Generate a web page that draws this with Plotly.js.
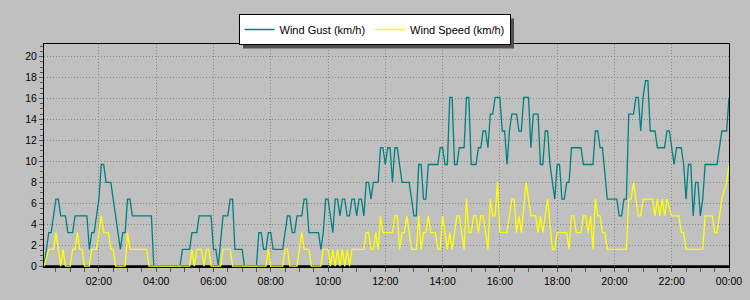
<!DOCTYPE html>
<html>
<head>
<meta charset="utf-8">
<script src="https://cdn.plot.ly/plotly-3.0.1.min.js"></script>
<style>
html,body{margin:0;padding:0;background:#c0c0c0;}
#chart{width:750px;height:300px;}
</style>
</head>
<body>
<div id="chart"></div>
<script>
// Wind gust (km/h) – vertices
const gustTimes = ["00:05","00:15","00:20","00:30","00:35","00:40","00:50","00:55","01:05","01:10","01:35","01:40","01:45","01:50","02:00","02:05","02:10","02:15","02:25","02:45","02:50","02:55","03:00","03:05","03:10","03:50","03:55","04:50","04:55","05:10","05:15","05:25","05:30","05:55","06:00","06:05","06:10","06:20","06:30","06:35","06:40","06:45","07:00","07:05","07:30","07:35","07:40","07:45","07:50","07:55","08:00","08:05","08:25","08:35","08:40","08:45","08:50","08:55","09:05","09:10","09:15","09:20","09:40","09:45","09:50","09:55","10:00","10:10","10:15","10:20","10:25","10:30","10:35","10:40","10:45","10:50","10:55","11:00","11:05","11:10","11:15","11:20","11:25","11:30","11:35","11:45","11:50","11:55","12:00","12:05","12:10","12:15","12:20","12:25","12:35","12:50","13:00","13:05","13:10","13:15","13:20","13:25","13:30","13:50","13:55","14:00","14:05","14:10","14:15","14:20","14:25","14:30","14:35","14:45","14:50","14:55","15:00","15:10","15:15","15:20","15:25","15:30","15:35","15:40","15:45","15:50","16:00","16:05","16:10","16:15","16:20","16:25","16:35","16:40","16:45","16:50","17:00","17:05","17:10","17:20","17:25","17:30","17:35","17:40","17:45","17:55","18:00","18:05","18:10","18:15","18:20","18:25","18:30","18:50","18:55","19:15","19:20","19:25","19:30","19:35","19:45","20:05","20:10","20:15","20:20","20:25","20:30","20:40","20:45","20:50","20:55","21:00","21:05","21:10","21:15","21:25","21:30","21:45","21:50","21:55","22:05","22:10","22:20","22:25","22:30","22:35","22:40","22:45","22:50","22:55","23:00","23:05","23:10","23:35","23:45","23:55","24:00"];
const gustValues = [0,3.2,3.2,6.4,6.4,4.8,4.8,3.2,3.2,4.8,4.8,1.6,3.2,3.2,6.4,9.7,9.7,8.0,8.0,1.6,3.2,3.2,6.4,6.4,4.8,4.8,0,0,1.6,1.6,3.2,3.2,4.8,4.8,1.6,1.6,0,4.8,4.8,6.4,6.4,1.6,1.6,0,0,3.2,3.2,1.6,1.6,3.2,3.2,1.6,1.6,4.8,4.8,3.2,3.2,4.8,4.8,6.4,6.4,3.2,3.2,1.6,3.2,6.4,6.4,3.2,6.4,6.4,4.8,6.4,6.4,4.8,4.8,6.4,6.4,4.8,6.4,6.4,4.8,8.0,8.0,6.4,8.0,8.0,11.3,11.3,9.7,11.3,11.3,8.0,11.3,11.3,8.0,8.0,4.8,4.8,9.7,9.7,6.4,6.4,9.7,9.7,11.3,11.3,9.7,9.7,16.1,16.1,9.7,9.7,11.3,11.3,16.1,16.1,9.7,9.7,11.3,11.3,12.9,12.9,11.3,14.5,14.5,16.1,16.1,12.9,12.9,9.7,12.9,14.5,14.5,12.9,12.9,16.1,16.1,11.3,14.5,14.5,9.7,9.7,12.9,12.9,9.7,6.4,9.7,9.7,6.4,6.4,8.0,8.0,11.3,11.3,9.7,9.7,12.9,12.9,11.3,11.3,6.4,6.4,4.8,4.8,6.4,6.4,14.5,14.5,16.1,16.1,12.9,16.1,17.7,17.7,12.9,12.9,11.3,11.3,12.9,12.9,9.7,11.3,11.3,9.7,6.4,9.7,9.7,4.8,8.0,8.0,4.8,6.4,9.7,9.7,12.9,12.9,16.1];

// Wind speed (km/h)
const speedTimes = ["00:05","00:15","00:25","00:30","00:40","00:45","00:50","01:00","01:05","01:10","01:15","01:20","01:25","01:30","01:40","01:45","01:55","02:05","02:10","02:20","02:25","02:30","02:35","02:55","03:00","03:05","03:40","03:45","05:10","05:15","05:20","05:25","05:35","05:40","05:45","05:50","05:55","06:15","06:20","06:35","06:40","07:50","07:55","08:00","08:25","08:30","08:35","08:40","08:55","09:05","09:10","09:20","09:25","09:45","09:50","10:00","10:05","10:10","10:15","10:20","10:25","10:30","10:35","10:40","10:45","10:50","11:15","11:20","11:25","11:30","11:35","11:40","11:45","11:50","11:55","12:15","12:20","12:25","12:30","12:35","12:40","12:45","12:50","12:55","13:05","13:10","13:15","13:20","13:25","13:30","13:35","13:45","13:50","13:55","14:00","14:05","14:10","14:15","14:20","14:30","14:35","14:45","14:50","14:55","15:00","15:05","15:10","15:15","15:20","15:25","15:35","15:40","15:45","15:50","15:55","16:00","16:15","16:20","16:25","16:30","16:35","16:40","16:45","16:55","17:00","17:05","17:15","17:20","17:25","17:30","17:40","17:50","17:55","18:00","18:20","18:25","18:30","18:35","18:40","18:50","18:55","19:00","19:05","19:10","19:15","19:20","19:25","19:30","19:35","19:40","19:45","20:25","20:30","20:35","20:40","20:50","20:55","21:00","21:20","21:25","21:30","21:35","21:40","21:45","21:50","22:00","22:15","22:20","22:25","22:30","23:05","23:10","23:25","23:30","23:35","23:45","23:55","24:00"];
const speedValues = [0,1.6,1.6,3.2,0,1.6,0,0,1.6,1.6,3.2,1.6,1.6,0,0,1.6,1.6,4.8,3.2,3.2,1.6,1.6,0,0,3.2,1.6,1.6,0,0,1.6,0,1.6,1.6,0,1.6,1.6,0,0,1.6,1.6,0,0,1.6,0,0,1.6,1.6,0,0,3.2,1.6,1.6,0,0,1.6,1.6,0,1.6,0,1.6,0,1.6,0,1.6,0,1.6,1.6,3.2,3.2,1.6,1.6,3.2,1.6,4.8,3.2,3.2,4.8,4.8,1.6,3.2,3.2,4.8,3.2,1.6,1.6,4.8,1.6,3.2,3.2,4.8,3.2,3.2,1.6,1.6,4.8,3.2,1.6,3.2,1.6,4.8,4.8,1.6,6.4,3.2,3.2,4.8,4.8,3.2,4.8,4.8,1.6,6.4,4.8,4.8,8.0,3.2,3.2,4.8,6.4,6.4,3.2,4.8,3.2,8.0,6.4,4.8,4.8,3.2,4.8,3.2,6.4,1.6,1.6,3.2,3.2,1.6,4.8,4.8,3.2,3.2,4.8,4.8,3.2,4.8,1.6,6.4,4.8,4.8,3.2,3.2,1.6,1.6,6.4,6.4,8.0,4.8,4.8,6.4,6.4,4.8,6.4,4.8,6.4,4.8,6.4,4.8,4.8,3.2,3.2,1.6,1.6,4.8,4.8,3.2,3.2,6.4,8.0,9.7];

const seriesNames = ["Wind Gust (km/h)", "Wind Speed (km/h)"];
const tickFormat = "%H:%M";

function toDate(hm) {
  const p = hm.split(":").map(Number);
  const day = p[0] >= 24 ? "2024-01-02" : "2024-01-01";
  const hh = String(p[0] % 24).padStart(2, "0");
  const mm = String(p[1]).padStart(2, "0");
  return day + " " + hh + ":" + mm;
}

const font = {family: "'Liberation Sans', Arial, sans-serif", size: 10.5, color: "#000"};

const traces = [
  {x: gustTimes.map(toDate), y: gustValues, name: seriesNames[0], type: "scatter", mode: "lines",
   line: {color: "#008080", width: 1.3}},
  {x: speedTimes.map(toDate), y: speedValues, name: seriesNames[1], type: "scatter", mode: "lines",
   line: {color: "#ffff00", width: 1.3}}
];

const layout = {
  width: 750, height: 300,
  paper_bgcolor: "#c0c0c0", plot_bgcolor: "#c0c0c0",
  margin: {l: 44, r: 21, t: 44, b: 33, pad: 0},
  font: font,
  showlegend: true,
  legend: {orientation: "h", x: 0.4825, xanchor: "center", y: 1.1345, yanchor: "top",
           bgcolor: "#ffffff", bordercolor: "#000000", borderwidth: 1,
           font: {family: font.family, size: 11, color: "#000"}, itemwidth: 30, tracegroupgap: 0},
  xaxis: {type: "date", range: ["2024-01-01 00:05", "2024-01-02 00:00"],
          tickformat: tickFormat, tick0: "2024-01-01 00:00", dtick: 7200000,
          showgrid: true, gridcolor: "#888888", griddash: "1px,2px", gridwidth: 1,
          showline: true, linecolor: "#000", linewidth: 1, mirror: true,
          ticks: "outside", ticklen: 4, tickcolor: "#555", tickwidth: 1,
          minor: {dtick: 1800000, tick0: "2024-01-01 00:00", ticks: "outside", ticklen: 4, tickcolor: "#555", showgrid: false},
          zeroline: false, tickfont: font, fixedrange: true},
  yaxis: {range: [-0.08, 21.2], tick0: 0, dtick: 2,
          showgrid: true, gridcolor: "#888888", griddash: "1px,2px", gridwidth: 1,
          showline: true, linecolor: "#000", linewidth: 1, mirror: true,
          ticks: "outside", ticklen: 4, tickcolor: "#555", tickwidth: 1,
          minor: {dtick: 0.5, ticks: "outside", ticklen: 3, tickcolor: "#555", showgrid: false},
          zeroline: false, tickfont: font, fixedrange: true},
  shapes: [
    {type: "line", xref: "paper", yref: "y", x0: 0, x1: 1, y0: 0, y1: 0,
     line: {color: "#000", width: 2}, layer: "below"}
  ]
};

const gd = document.getElementById("chart");
Plotly.newPlot(gd, traces, layout, {staticPlot: true, displayModeBar: false}).then(function () {
  const bg = gd.querySelector(".legend .bg");
  if (!bg) return;
  const r = bg.getBoundingClientRect();
  const c = gd.getBoundingClientRect();
  const L = 44, T = 44, W = 750 - 44 - 21, H = 300 - 44 - 33;
  const px = function (x) { return (x - c.left - L) / W; };
  const py = function (y) { return 1 - (y - c.top - T) / H; };
  const sh = layout.shapes.slice();
  sh.push({type: "rect", xref: "paper", yref: "paper",
           x0: px(r.left + 4), x1: px(r.right + 4), y0: py(r.top + 4), y1: py(r.bottom + 4),
           fillcolor: "#505050", line: {width: 0}, layer: "above"});
  Plotly.relayout(gd, {shapes: sh});
});
</script>
</body>
</html>
